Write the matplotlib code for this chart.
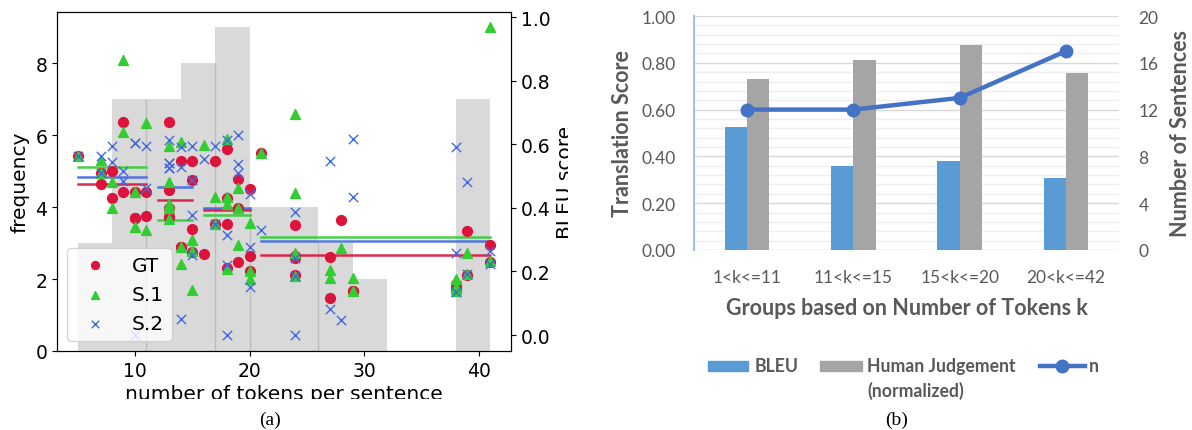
import numpy as np
import matplotlib
matplotlib.use("Agg")
import matplotlib.pyplot as plt
from matplotlib.patches import Rectangle
from matplotlib.lines import Line2D
from matplotlib.transforms import Bbox, TransformedBbox

# ---------------- data (a) ----------------
tokens = [5,
          7, 7,
          8, 8,
          9, 9,
          10, 10, 10,
          11, 11,
          13, 13, 13, 13, 13,
          14, 14, 14,
          15, 15, 15, 15,
          16,
          17, 17,
          18, 18, 18, 18,
          19, 19, 19,
          20, 20, 20,
          21,
          24, 24, 24, 24,
          27, 27,
          28,
          29, 29,
          38, 38, 38,
          39, 39,
          41, 41]
gt = [.562,
      .511, .475,
      .517, .431,
      .669, .449,
      .368, .451, .368,
      .451, .375,
      .669, .456, .37, .40, .37,
      .548, .276, .276,
      .546, .487, .333, .26,
      .255,
      .548, .35,
      .585, .349, .43, .21,
      .49, .229, .40,
      .459, .249, .20,
      .572,
      .347, .241, .25, .19,
      .245, .118,
      .363,
      .139, .139,
      .15, .16, .14,
      .328, .19,
      .284, .23]
s1 = [.562,
      .55, .511,
      .48, .40,
      .865, .64,
      .451, .339, .339,
      .667, .33,
      .595, .482, .412, .40, .365,
      .608, .276, .223,
      .299, .265, .142, .30,
      .597,
      .434, .349,
      .616, .434, .413, .208,
      .464, .40, .283,
      .354, .202, .176,
      .572,
      .695, .446, .258, .187,
      .205, .178,
      .273,
      .181, .139,
      .176, .15, .14,
      .258, .192,
      .968, .234]
s2 = [.562,
      .562, .511,
      .595, .545,
      .517, .485,
      .604, .0, .604,
      .595, .464,
      .614, .54, .525, .54, .525,
      .59, .53, .052,
      .595, .487, .377, .252,
      .553,
      .595, .349,
      .614, .314, .22, .0,
      .629, .538, .51,
      .443, .278, .15,
      .33,
      .388, .241, .187, .0,
      .548, .082,
      .047,
      .616, .433,
      .592, .258, .134,
      .482, .192,
      .265, .223]

# group mean lines: start, end, GT, S.1, S.2
grp_start = [5, 12, 16, 21]
grp_end = [11, 15, 20, 41]
grp_gt = [0.475, 0.425, 0.393, 0.252]
grp_s1 = [0.528, 0.362, 0.378, 0.309]
grp_s2 = [0.497, 0.465, 0.400, 0.296]
seam_x = [11, 17, 20, 26]

# ---------------- data (b) ----------------
groups = ["1<k<=11", "11<k<=15", "15<k<=20", "20<k<=42"]
bleu = [0.527, 0.360, 0.379, 0.308]
human = [0.731, 0.813, 0.876, 0.756]
n_sent = [12, 12, 13, 17]

RED = "#DC143C"
GREEN = "#32CD32"
BLUE = "#4169E1"

fig = plt.figure(figsize=(11.92, 4.31), dpi=100)

# ================= panel (a) =================
ax = fig.add_axes([57/1192, 1-352/431, (511-57)/1192, (352-13)/431])
counts, edges, _ = ax.hist(tokens, bins=12, color="#D9D9D9", zorder=1)
for sx in seam_x:
    i = int(np.argmin(np.abs(edges - sx)))
    h = min(counts[i-1], counts[i]) if 0 < i < len(counts) else 0
    ax.vlines(edges[i], 0, h, color="#BDBDBD", lw=1, zorder=1.5)
ax.set_xlim(3.2, 42.8)
ax.set_ylim(0, 9.42)
ax.set_yticks([0, 2, 4, 6, 8])
ax.set_xticks([10, 20, 30, 40])
ax.tick_params(labelsize=13.5)
ax.set_ylabel("frequency", fontsize=14.5, labelpad=4)
xl = ax.set_xlabel("number of tokens per sentence", fontsize=14.5, labelpad=3)
xclip = TransformedBbox(Bbox.from_extents(0, 1 - 400/431, 1, 1), fig.transFigure)
xl.set_clip_box(xclip)
xl.set_clip_on(True)

ax2 = ax.twinx()
ax2.set_ylim(-0.05, 1.016)
ax2.set_yticks([0.0, 0.2, 0.4, 0.6, 0.8, 1.0])
ax2.tick_params(labelsize=13.5)
for s0, s1e, g, a, b in zip(grp_start, grp_end, grp_gt, grp_s1, grp_s2):
    ax2.plot([s0, s1e], [a, a], color=GREEN, lw=1.8, alpha=0.9)
    ax2.plot([s0, s1e], [b, b], color=BLUE, lw=1.8, alpha=0.9)
    ax2.plot([s0, s1e], [g, g], color=RED, lw=1.8, alpha=0.9)
h1 = ax2.scatter(tokens, gt, s=50, color=RED, marker="o", label="GT", zorder=3)
h2 = ax2.scatter(tokens, s1, s=50, color=GREEN, marker="^", label="S.1", zorder=3)
h3 = ax2.scatter(tokens, s2, s=45, color=BLUE, marker="x", linewidths=1.0, label="S.2", zorder=3)
lab = ax2.set_ylabel("BLEU score", fontsize=14.5, labelpad=4)
clip = TransformedBbox(Bbox.from_extents(0, 0, 568/1192, 1), fig.transFigure)
lab.set_clip_box(clip)
lab.set_clip_on(True)
leg = ax2.legend(handles=[h1, h2, h3], loc="lower left", fontsize=14.5,
                 markerscale=0.8)

fig.text(270/1192, 1-420/431, "(a)", ha="center", va="center",
         fontsize=14, family="Liberation Serif")

# ================= panel (b) =================
GRAYTXT = "#595959"
FONT = "Lato"
axb = fig.add_axes([694/1192, 1-251/431, (1119-694)/1192, (251-17)/431])
x = np.arange(len(groups))
w = 0.21
axb.bar(x - w/2, bleu, w, color="#5B9BD5", zorder=3)
axb.bar(x + w/2, human, w, color="#A5A5A5", zorder=3)
axb.set_xlim(-0.5, len(groups) - 0.5)
axb.set_ylim(0, 1.0)
axb.set_yticks(np.arange(0, 1.01, 0.2))
axb.set_yticklabels([f"{v:.2f}" for v in np.arange(0, 1.01, 0.2)])
axb.set_yticks(np.arange(0, 1.001, 0.04), minor=True)
axb.grid(axis="y", which="minor", color="#EFEFEF", lw=1.0, zorder=0)
axb.grid(axis="y", which="major", color="#D9D9D9", lw=1.0, zorder=0)
axb.set_xticks(x)
axb.set_xticklabels(groups)
for sp in ["top", "right", "bottom"]:
    axb.spines[sp].set_visible(False)
axb.spines["left"].set_color("#9DC3E6")
axb.spines["left"].set_linewidth(1.5)
axb.tick_params(axis="both", which="both", length=0, colors=GRAYTXT, labelsize=12.5)
axb.tick_params(axis="x", pad=14)
axb.tick_params(axis="y", pad=13)
for t in axb.get_xticklabels() + axb.get_yticklabels():
    t.set_family(FONT)
axb.set_ylabel("Translation Score", fontsize=15.5, fontweight="bold",
               color=GRAYTXT, family=FONT, labelpad=6)
axb.set_xlabel("Groups based on Number of Tokens k", fontsize=15.5,
               fontweight="bold", color=GRAYTXT, family=FONT, labelpad=8)

axb2 = axb.twinx()
axb2.plot(x, n_sent, color="#4472C4", lw=3.2, marker="o", ms=9, zorder=4)
axb2.set_ylim(0, 20)
axb2.set_yticks(np.arange(0, 21, 4))
for sp in ["top", "right", "bottom", "left"]:
    axb2.spines[sp].set_visible(False)
axb2.tick_params(axis="y", length=0, colors=GRAYTXT, labelsize=12.5, pad=14)
for t in axb2.get_yticklabels():
    t.set_family(FONT)
axb2.set_ylabel("Number of Sentences", fontsize=15.5, fontweight="bold",
                color=GRAYTXT, family=FONT, labelpad=8)

# legend of (b), drawn manually below the chart
def fx(px):
    return px / 1192
def fy(py):
    return 1 - py / 431
ly = 367
LFS = 12.7
fig.patches.append(Rectangle((fx(708), fy(ly + 5)), fx(40), 10/431,
                             transform=fig.transFigure, color="#5B9BD5"))
fig.text(fx(755), fy(ly), "BLEU", fontsize=LFS, fontweight="bold",
         color=GRAYTXT, family=FONT, va="center")
fig.patches.append(Rectangle((fx(820), fy(ly + 5)), fx(42), 10/431,
                             transform=fig.transFigure, color="#A5A5A5"))
fig.text(fx(867), fy(ly), "Human Judgement", fontsize=LFS, fontweight="bold",
         color=GRAYTXT, family=FONT, va="center")
fig.text(fx(867), fy(ly + 24), "(normalized)", fontsize=LFS, fontweight="bold",
         color=GRAYTXT, family=FONT, va="center")
fig.lines.append(Line2D([fx(1040), fx(1085)], [fy(ly), fy(ly)],
                        transform=fig.transFigure, color="#4472C4", lw=3.2))
fig.lines.append(Line2D([fx(1062)], [fy(ly)], transform=fig.transFigure,
                        color="#4472C4", marker="o", ms=9))
fig.text(fx(1089), fy(ly), "n", fontsize=LFS, fontweight="bold",
         color=GRAYTXT, family=FONT, va="center")

fig.text(fx(897), fy(420), "(b)", ha="center", va="center",
         fontsize=14, family="Liberation Serif")

fig.savefig("out.png", dpi=100)
